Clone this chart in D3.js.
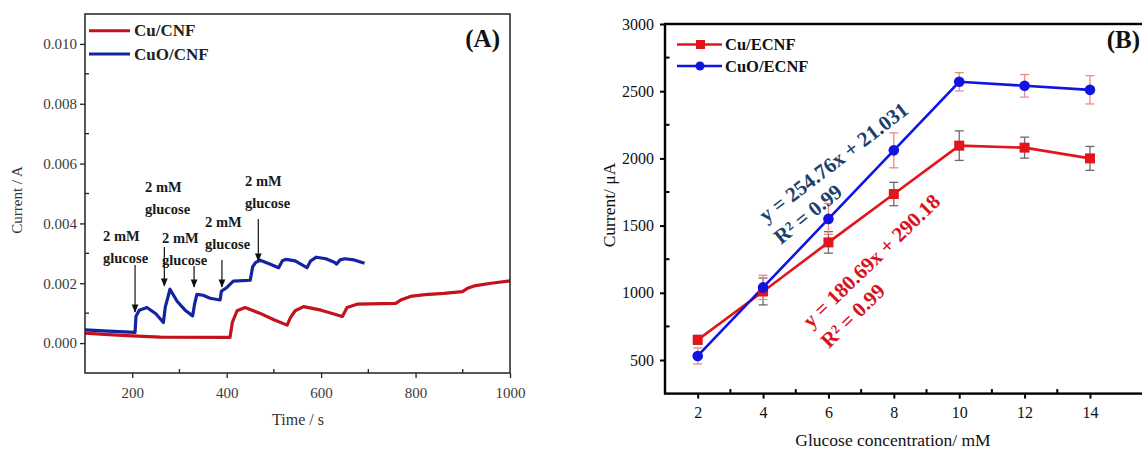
<!DOCTYPE html>
<html>
<head>
<meta charset="utf-8">
<script src="https://cdn.jsdelivr.net/npm/d3@7"></script>
<style>
  html, body { margin: 0; padding: 0; background: #fff; }
  svg { display: block; }
  svg text { font-family: "Liberation Serif", "Times New Roman", serif !important; }
</style>
</head>
<body>
<svg id="fig" width="1142" height="449"></svg>
<script>
// ---------- Panel A: amperometric response (time, current) ----------
const cuCnfTime = [100, 150, 200, 260, 407, 412, 422, 439, 470, 500, 528, 535, 545, 563, 600, 645, 655, 676, 758, 770, 789, 820, 860, 899, 910, 924, 960, 1000];
const cuCnfCurrent = [0.00033, 0.00028, 0.00024, 0.00020, 0.00019, 0.00069, 0.00108, 0.00119, 0.00100, 0.00078, 0.00060, 0.00085, 0.00108, 0.00122, 0.00110, 0.00089, 0.00119, 0.00130, 0.00133, 0.00145, 0.00156, 0.00162, 0.00166, 0.00172, 0.00183, 0.00191, 0.00200, 0.00208];

const cuoCnfTime = [100, 150, 206, 208, 215, 231, 250, 266, 270, 280, 295, 312, 328, 332, 337, 350, 365, 386, 389, 400, 414, 450, 455, 461, 471, 490, 510, 518, 526, 545, 570, 578, 590, 610, 628, 633, 640, 650, 670, 692];
const cuoCnfCurrent = [0.00044, 0.00040, 0.00036, 0.00090, 0.00110, 0.00119, 0.00098, 0.00069, 0.00120, 0.00180, 0.00140, 0.00110, 0.00091, 0.00130, 0.00163, 0.00160, 0.00150, 0.00144, 0.00174, 0.00185, 0.00207, 0.00210, 0.00255, 0.00269, 0.00277, 0.00265, 0.00252, 0.00275, 0.00280, 0.00275, 0.00252, 0.00275, 0.00287, 0.00282, 0.00270, 0.00264, 0.00278, 0.00282, 0.00278, 0.00267];

const timeTicks = [200, 400, 600, 800, 1000];
const currentTicksA = [0.000, 0.002, 0.004, 0.006, 0.008, 0.010];
const legendA = ["Cu/CNF", "CuO/CNF"];

// glucose additions: time of each arrow
const additionTime = [206, 268, 331, 390, 467];
const additionLabel = ["2 mM", "glucose"];

// ---------- Panel B: calibration (concentration, current) ----------
const glucoseConc = [2, 4, 6, 8, 10, 12, 14];
const cuEcnfCurrent = [650, 1010, 1375, 1735, 2095, 2080, 2000];
const cuEcnfError = [33, 100, 80, 87, 110, 78, 89];
const cuoEcnfCurrent = [530, 1040, 1550, 2060, 2570, 2540, 2510];
const cuoEcnfError = [60, 90, 115, 130, 68, 84, 105];
const concTicks = [2, 4, 6, 8, 10, 12, 14];
const currentTicksB = [500, 1000, 1500, 2000, 2500, 3000];
const legendB = ["Cu/ECNF", "CuO/ECNF"];
const fitCuO = ["y = 254.76x + 21.031", "R² = 0.99"];
const fitCu = ["y = 180.69x + 290.18", "R² = 0.99"];

const svg = d3.select("#fig");
const serif = "'Liberation Serif', 'Times New Roman', serif";

// ======================= Panel A =======================
const A = { left: 85, right: 510, top: 14, bottom: 373 };
const xA = d3.scaleLinear().domain([100, 1000]).range([A.left, A.right]);
const yA = d3.scaleLinear().domain([-0.001, 0.011]).range([A.bottom, A.top]);
const gA = svg.append("g");

const redA = "#c4121c", blueA = "#1424a0";

gA.append("clipPath").attr("id", "clipA")
  .append("rect").attr("x", A.left).attr("y", A.top)
  .attr("width", A.right - A.left).attr("height", A.bottom - A.top);

const lineA = d3.line().x(d => xA(d[0])).y(d => yA(d[1]));
const plotA = gA.append("g").attr("clip-path", "url(#clipA)");
plotA.append("path").datum(d3.zip(cuCnfTime, cuCnfCurrent))
  .attr("d", lineA).attr("fill", "none").attr("stroke", redA)
  .attr("stroke-width", 3.2).attr("stroke-linejoin", "round");
plotA.append("path").datum(d3.zip(cuoCnfTime, cuoCnfCurrent))
  .attr("d", lineA).attr("fill", "none").attr("stroke", blueA)
  .attr("stroke-width", 3.2).attr("stroke-linejoin", "round");

// axes A: major ticks outward, minor ticks inward
const axAx = gA.append("g").attr("transform", `translate(0,${A.bottom})`)
  .call(d3.axisBottom(xA).tickValues(timeTicks).tickFormat(d3.format("d")).tickSize(5).tickPadding(9));
const axAy = gA.append("g").attr("transform", `translate(${A.left},0)`)
  .call(d3.axisLeft(yA).tickValues(currentTicksA).tickFormat(d3.format(".3f")).tickSize(5).tickPadding(3));
[axAx, axAy].forEach(ax => {
  ax.attr("font-family", serif);
  ax.select(".domain").remove();
  ax.selectAll("line").attr("stroke", "#222").attr("stroke-width", 1.3);
  ax.selectAll("text").style("font-family", serif).style("font-size", "15px").attr("fill", "#3a3a3a");
});
gA.append("g").selectAll("line").data([300, 500, 700, 900]).join("line")
  .attr("x1", d => xA(d)).attr("x2", d => xA(d))
  .attr("y1", A.bottom).attr("y2", A.bottom - 4).attr("stroke", "#222").attr("stroke-width", 1.3);
gA.append("g").selectAll("line").data([0.001, 0.003, 0.005, 0.007, 0.009]).join("line")
  .attr("x1", A.left).attr("x2", A.left + 4)
  .attr("y1", d => yA(d)).attr("y2", d => yA(d)).attr("stroke", "#222").attr("stroke-width", 1.3);

gA.append("rect").attr("x", A.left).attr("y", A.top)
  .attr("width", A.right - A.left).attr("height", A.bottom - A.top)
  .attr("fill", "none").attr("stroke", "#222").attr("stroke-width", 1.5);

gA.append("text").attr("x", 298).attr("y", 425).attr("text-anchor", "middle")
  .style("font-size", "16px").attr("fill", "#333").text("Time / s");
gA.append("text").attr("transform", "translate(22,200) rotate(-90)")
  .attr("text-anchor", "middle").style("font-size", "15px").attr("fill", "#333").text("Current / A");

// legend A
const legA = gA.append("g");
legendA.forEach((name, i) => {
  const y = 30.7 + i * 23.3;
  legA.append("line").attr("x1", 89).attr("x2", 130).attr("y1", y).attr("y2", y)
    .attr("stroke", i ? blueA : redA).attr("stroke-width", 3);
  legA.append("text").attr("x", 134).attr("y", y + 5.5).style("font-size", "17px")
    .attr("font-weight", "bold").attr("fill", "#222").text(name);
});
gA.append("text").attr("x", 500).attr("y", 47).attr("text-anchor", "end")
  .style("font-size", "25px").attr("font-weight", "bold").attr("fill", "#111").text("(A)");

// glucose addition annotations: label block and arrow pointing down to the trace
const addLayout = [
  { lx: 103, ly: 241, ay1: 265, ay2: 312 },
  { lx: 145, ly: 192, ay1: 247, ay2: 286 },
  { lx: 162, ly: 243, ay1: 266, ay2: 287 },
  { lx: 205, ly: 227, ay1: 260, ay2: 287 },
  { lx: 245, ly: 186, ay1: 219, ay2: 261 }
];
svg.append("defs").append("marker").attr("id", "arrowA")
  .attr("viewBox", "0 0 10 10").attr("refX", 9).attr("refY", 5)
  .attr("markerWidth", 7).attr("markerHeight", 7).attr("orient", "auto")
  .append("path").attr("d", "M0,1 L10,5 L0,9 Z").attr("fill", "#111");
const annA = gA.append("g");
additionTime.forEach((t, i) => {
  const L = addLayout[i];
  const tx = annA.append("text").attr("x", L.lx).attr("y", L.ly)
    .style("font-size", "14.5px").attr("font-weight", "bold").attr("fill", "#1a1a1a");
  tx.append("tspan").attr("x", L.lx).text(additionLabel[0]);
  tx.append("tspan").attr("x", L.lx).attr("dy", 21.5).text(additionLabel[1]);
  annA.append("line").attr("x1", xA(t)).attr("x2", xA(t))
    .attr("y1", L.ay1).attr("y2", L.ay2).attr("stroke", "#111").attr("stroke-width", 1.2)
    .attr("marker-end", "url(#arrowA)");
});

// ======================= Panel B =======================
const B = { left: 665, right: 1146, top: 24, bottom: 393.6 };
const xB = d3.scaleLinear().domain([1, 15]).range([B.left, B.left + 32.69 * 14]);
const yB = d3.scaleLinear().domain([250, 3000]).range([B.bottom, B.top]);
const gB = svg.append("g");
const redB = "#e3141c", blueB = "#0f14e0";

// error bars (Cu series in grey, CuO series in light red)
function errorBars(vals, errs, color) {
  const g = gB.append("g").attr("stroke", color).attr("stroke-width", 1.3).attr("fill", "none");
  glucoseConc.forEach((c, i) => {
    const x = xB(c), y1 = yB(vals[i] - errs[i]), y2 = yB(vals[i] + errs[i]);
    g.append("line").attr("x1", x).attr("x2", x).attr("y1", y1).attr("y2", y2);
    g.append("line").attr("x1", x - 4.5).attr("x2", x + 4.5).attr("y1", y1).attr("y2", y1);
    g.append("line").attr("x1", x - 4.5).attr("x2", x + 4.5).attr("y1", y2).attr("y2", y2);
  });
}
errorBars(cuEcnfCurrent, cuEcnfError, "#6a6a6a");
errorBars(cuoEcnfCurrent, cuoEcnfError, "#ec8a8a");

const lineB = d3.line().x(d => xB(d[0])).y(d => yB(d[1]));
gB.append("path").datum(d3.zip(glucoseConc, cuEcnfCurrent)).attr("d", lineB)
  .attr("fill", "none").attr("stroke", redB).attr("stroke-width", 2.6);
gB.append("path").datum(d3.zip(glucoseConc, cuoEcnfCurrent)).attr("d", lineB)
  .attr("fill", "none").attr("stroke", blueB).attr("stroke-width", 2.6);
gB.append("g").selectAll("rect").data(d3.zip(glucoseConc, cuEcnfCurrent)).join("rect")
  .attr("x", d => xB(d[0]) - 5).attr("y", d => yB(d[1]) - 5)
  .attr("width", 10).attr("height", 10).attr("fill", redB);
gB.append("g").selectAll("circle").data(d3.zip(glucoseConc, cuoEcnfCurrent)).join("circle")
  .attr("cx", d => xB(d[0])).attr("cy", d => yB(d[1])).attr("r", 5.3).attr("fill", blueB);

// axes B
const axBx = gB.append("g").attr("transform", `translate(0,${B.bottom})`)
  .call(d3.axisBottom(xB).tickValues(concTicks).tickFormat(d3.format("d")).tickSize(5).tickPadding(8));
const axBy = gB.append("g").attr("transform", `translate(${B.left},0)`)
  .call(d3.axisLeft(yB).tickValues(currentTicksB).tickFormat(d3.format("d")).tickSize(5).tickPadding(6));
[axBx, axBy].forEach(ax => {
  ax.attr("font-family", serif);
  ax.select(".domain").remove();
  ax.selectAll("line").attr("stroke", "#000").attr("stroke-width", 2);
  ax.selectAll("text").style("font-family", serif).style("font-size", "16px").attr("fill", "#111");
});
gB.append("g").selectAll("line").data([3, 5, 7, 9, 11, 13]).join("line")
  .attr("x1", d => xB(d)).attr("x2", d => xB(d))
  .attr("y1", B.bottom).attr("y2", B.bottom - 4.5).attr("stroke", "#000").attr("stroke-width", 2);
gB.append("g").selectAll("line").data([750, 1250, 1750, 2250, 2750]).join("line")
  .attr("x1", B.left).attr("x2", B.left + 4.5)
  .attr("y1", d => yB(d)).attr("y2", d => yB(d)).attr("stroke", "#000").attr("stroke-width", 2);
gB.append("rect").attr("x", B.left).attr("y", B.top)
  .attr("width", B.right - B.left).attr("height", B.bottom - B.top)
  .attr("fill", "none").attr("stroke", "#000").attr("stroke-width", 2.4);

gB.append("text").attr("x", 893).attr("y", 446).attr("text-anchor", "middle")
  .style("font-size", "17.5px").attr("fill", "#111").text("Glucose concentration/ mM");
gB.append("text").attr("transform", "translate(615,205) rotate(-90)")
  .attr("text-anchor", "middle").style("font-size", "17.5px").attr("fill", "#111").text("Current/ μA");

// legend B
legendB.forEach((name, i) => {
  const y = 44.5 + i * 21.5;
  const col = i ? blueB : redB;
  gB.append("line").attr("x1", 677).attr("x2", 722).attr("y1", y).attr("y2", y)
    .attr("stroke", col).attr("stroke-width", 2.4);
  if (i) gB.append("circle").attr("cx", 700).attr("cy", y).attr("r", 4.5).attr("fill", col);
  else gB.append("rect").attr("x", 696).attr("y", y - 4.5).attr("width", 9).attr("height", 9).attr("fill", col);
  gB.append("text").attr("x", 725).attr("y", y + 5.5).style("font-size", "16.5px")
    .attr("font-weight", "bold").attr("fill", "#111").text(name);
});
gB.append("text").attr("x", 1140).attr("y", 48).attr("text-anchor", "end")
  .style("font-size", "25px").attr("font-weight", "bold").attr("fill", "#111").text("(B)");

// linear-fit equations, written along the fitted segments
function fitText(lines, color, x, y, angle, x2, y2, angle2) {
  gB.append("text").attr("transform", `translate(${x},${y}) rotate(${angle})`)
    .style("font-size", "21px").attr("font-weight", "bold").attr("fill", color).text(lines[0]);
  gB.append("text").attr("transform", `translate(${x2},${y2}) rotate(${angle2})`)
    .style("font-size", "21px").attr("font-weight", "bold").attr("fill", color).text(lines[1]);
}
fitText(fitCuO, "#1c3f6e", 766, 223, -37.5, 781, 245, -39);
fitText(fitCu, "#d8121e", 811, 329, -44, 829, 349, -44.5);
</script>
</body>
</html>
